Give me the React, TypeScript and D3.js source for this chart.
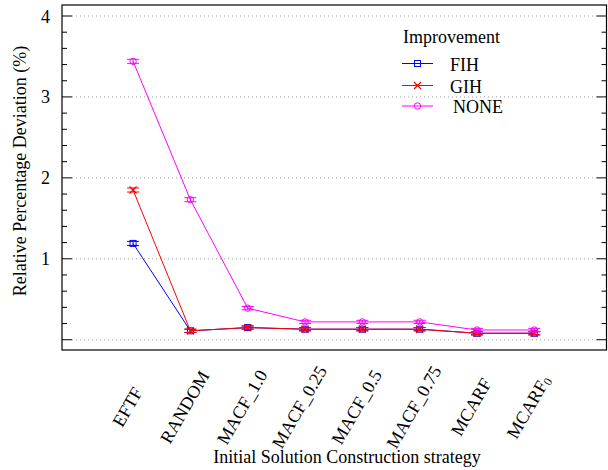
import React from "react";
import * as d3 from "d3";

// Initial solution construction strategies (x categories)
const categories = ["EFTF", "RANDOM", "MACF_1.0", "MACF_0.25", "MACF_0.5", "MACF_0.75", "MCARF", "MCARF0"];

// Relative percentage deviation (%) per improvement method
const fihValues = [1.19, 0.11, 0.15, 0.13, 0.13, 0.13, 0.08, 0.08];
const gihValues = [1.85, 0.11, 0.15, 0.13, 0.13, 0.13, 0.08, 0.08];
const noneValues = [3.44, 1.73, 0.39, 0.22, 0.22, 0.22, 0.12, 0.12];

// Error half-widths
const fihErrors = [0.025, 0.02, 0.02, 0.02, 0.02, 0.02, 0.02, 0.02];
const gihErrors = [0.025, 0.02, 0.02, 0.02, 0.02, 0.02, 0.02, 0.02];
const noneErrors = [0.025, 0.025, 0.02, 0.02, 0.02, 0.02, 0.02, 0.02];

const yTickLabels = [1, 2, 3, 4];
const gridValues = [0, 1, 2, 3, 4];

const FONT = "'Liberation Serif', 'Times New Roman', Times, serif";
const FS = 18;

type Series = { name: string; color: string; values: number[]; errors: number[]; marker: "square" | "cross" | "circle" };

const series: Series[] = [
  { name: "FIH", color: "#0000ff", values: fihValues, errors: fihErrors, marker: "square" },
  { name: "GIH", color: "#ff0000", values: gihValues, errors: gihErrors, marker: "cross" },
  { name: "NONE", color: "#ff00ff", values: noneValues, errors: noneErrors, marker: "circle" },
];

function Marker({ type, x, y, color }: { type: string; x: number; y: number; color: string }) {
  if (type === "square") {
    return <rect x={x - 3} y={y - 3} width={6} height={6} fill="none" stroke={color} strokeWidth={1} />;
  }
  if (type === "cross") {
    return (
      <path d={`M${x - 3.5},${y - 3.5}L${x + 3.5},${y + 3.5}M${x - 3.5},${y + 3.5}L${x + 3.5},${y - 3.5}`} stroke={color} strokeWidth={1.2} />
    );
  }
  return <circle cx={x} cy={y} r={3.2} fill="none" stroke={color} strokeWidth={1} />;
}

export default function App() {
  const W = 608;
  const H = 470;
  const left = 62;
  const right = 606.5;
  const top = 5;
  const bottom = 350;

  const x = d3.scaleLinear().domain([-1.24, categories.length - 1 + 1.26]).range([left, right]);
  const y = d3.scaleLinear().domain([-0.127, 4.136]).range([bottom, top]);

  const minorTicks = d3.range(0, 4.001, 0.2).map((v) => Math.round(v * 10) / 10).filter((v) => Math.abs(v - Math.round(v)) > 0.01);

  const line = d3
    .line<number>()
    .x((_, i) => x(i))
    .y((d) => y(d));

  const legendX0 = 402;
  const legendX1 = 433;
  const legendYs = [63.5, 85.5, 106];

  const textStyle = { fontFamily: FONT, fontSize: FS } as React.CSSProperties;

  return (
    <svg width={W} height={H} style={{ position: "absolute", left: 0, top: 0, background: "#fff" }}>
      {/* grid */}
      {gridValues.map((v) => (
        <line key={"g" + v} x1={left + 10} x2={right - 10} y1={y(v)} y2={y(v)} stroke="#a0a0a0" strokeWidth={1} strokeDasharray="1,3" />
      ))}

      {/* y ticks (both sides) */}
      {gridValues.map((v) => (
        <g key={"t" + v}>
          <line x1={left} x2={left + 10} y1={y(v)} y2={y(v)} stroke="#000" strokeWidth={1} />
          <line x1={right - 10} x2={right} y1={y(v)} y2={y(v)} stroke="#000" strokeWidth={1} />
        </g>
      ))}
      {minorTicks.map((v) => (
        <g key={"m" + v}>
          <line x1={left} x2={left + 5} y1={y(v)} y2={y(v)} stroke="#000" strokeWidth={1} />
          <line x1={right - 5} x2={right} y1={y(v)} y2={y(v)} stroke="#000" strokeWidth={1} />
        </g>
      ))}
      {yTickLabels.map((v) => (
        <text key={"l" + v} x={50} y={y(v) + 6.5} textAnchor="end" style={textStyle} fill="#000">
          {v}
        </text>
      ))}

      {/* frame */}
      <rect x={left} y={top} width={right - left} height={bottom - top} fill="none" stroke="#000" strokeWidth={1.2} />

      {/* series */}
      {series.map((s) => (
        <g key={s.name}>
          <path d={line(s.values) || ""} fill="none" stroke={s.color} strokeWidth={1} />
          {s.values.map((v, i) => {
            const cx = x(i);
            const y0 = y(v - s.errors[i]);
            const y1 = y(v + s.errors[i]);
            return (
              <g key={i}>
                <line x1={cx} x2={cx} y1={y0} y2={y1} stroke={s.color} strokeWidth={1} />
                <line x1={cx - 6} x2={cx + 6} y1={y0} y2={y0} stroke={s.color} strokeWidth={1} />
                <line x1={cx - 6} x2={cx + 6} y1={y1} y2={y1} stroke={s.color} strokeWidth={1} />
                <Marker type={s.marker} x={cx} y={y(v)} color={s.color} />
              </g>
            );
          })}
        </g>
      ))}

      {/* x category labels */}
      {categories.map((c, i) => {
        const lx = x(i) - 4;
        const ly = 408;
        const isSub = c === "MCARF0";
        return (
          <text key={c} transform={`translate(${lx},${ly}) rotate(-60)`} textAnchor="middle" dominantBaseline="middle" style={textStyle} fill="#000">
            {isSub ? (
              <>
                MCARF<tspan style={{ fontSize: 12 }} dy={3}>0</tspan>
              </>
            ) : (
              c
            )}
          </text>
        );
      })}

      {/* axis titles */}
      <text x={347} y={463} textAnchor="middle" style={textStyle} fill="#000">
        Initial Solution Construction strategy
      </text>
      <text transform={`translate(26,171) rotate(-90)`} textAnchor="middle" style={textStyle} fill="#000">
        Relative Percentage Deviation (%)
      </text>

      {/* legend */}
      <text x={403} y={42.5} style={textStyle} fill="#000">
        Improvement
      </text>
      {series.map((s, i) => (
        <g key={"lg" + s.name}>
          <line x1={legendX0} x2={legendX1} y1={legendYs[i]} y2={legendYs[i]} stroke={s.color} strokeWidth={1} />
          <Marker type={s.marker} x={(legendX0 + legendX1) / 2} y={legendYs[i]} color={s.color} />
          <text x={s.name === "NONE" ? 453 : 450} y={legendYs[i] + 7} style={textStyle} fill="#000">
            {s.name}
          </text>
        </g>
      ))}
    </svg>
  );
}
